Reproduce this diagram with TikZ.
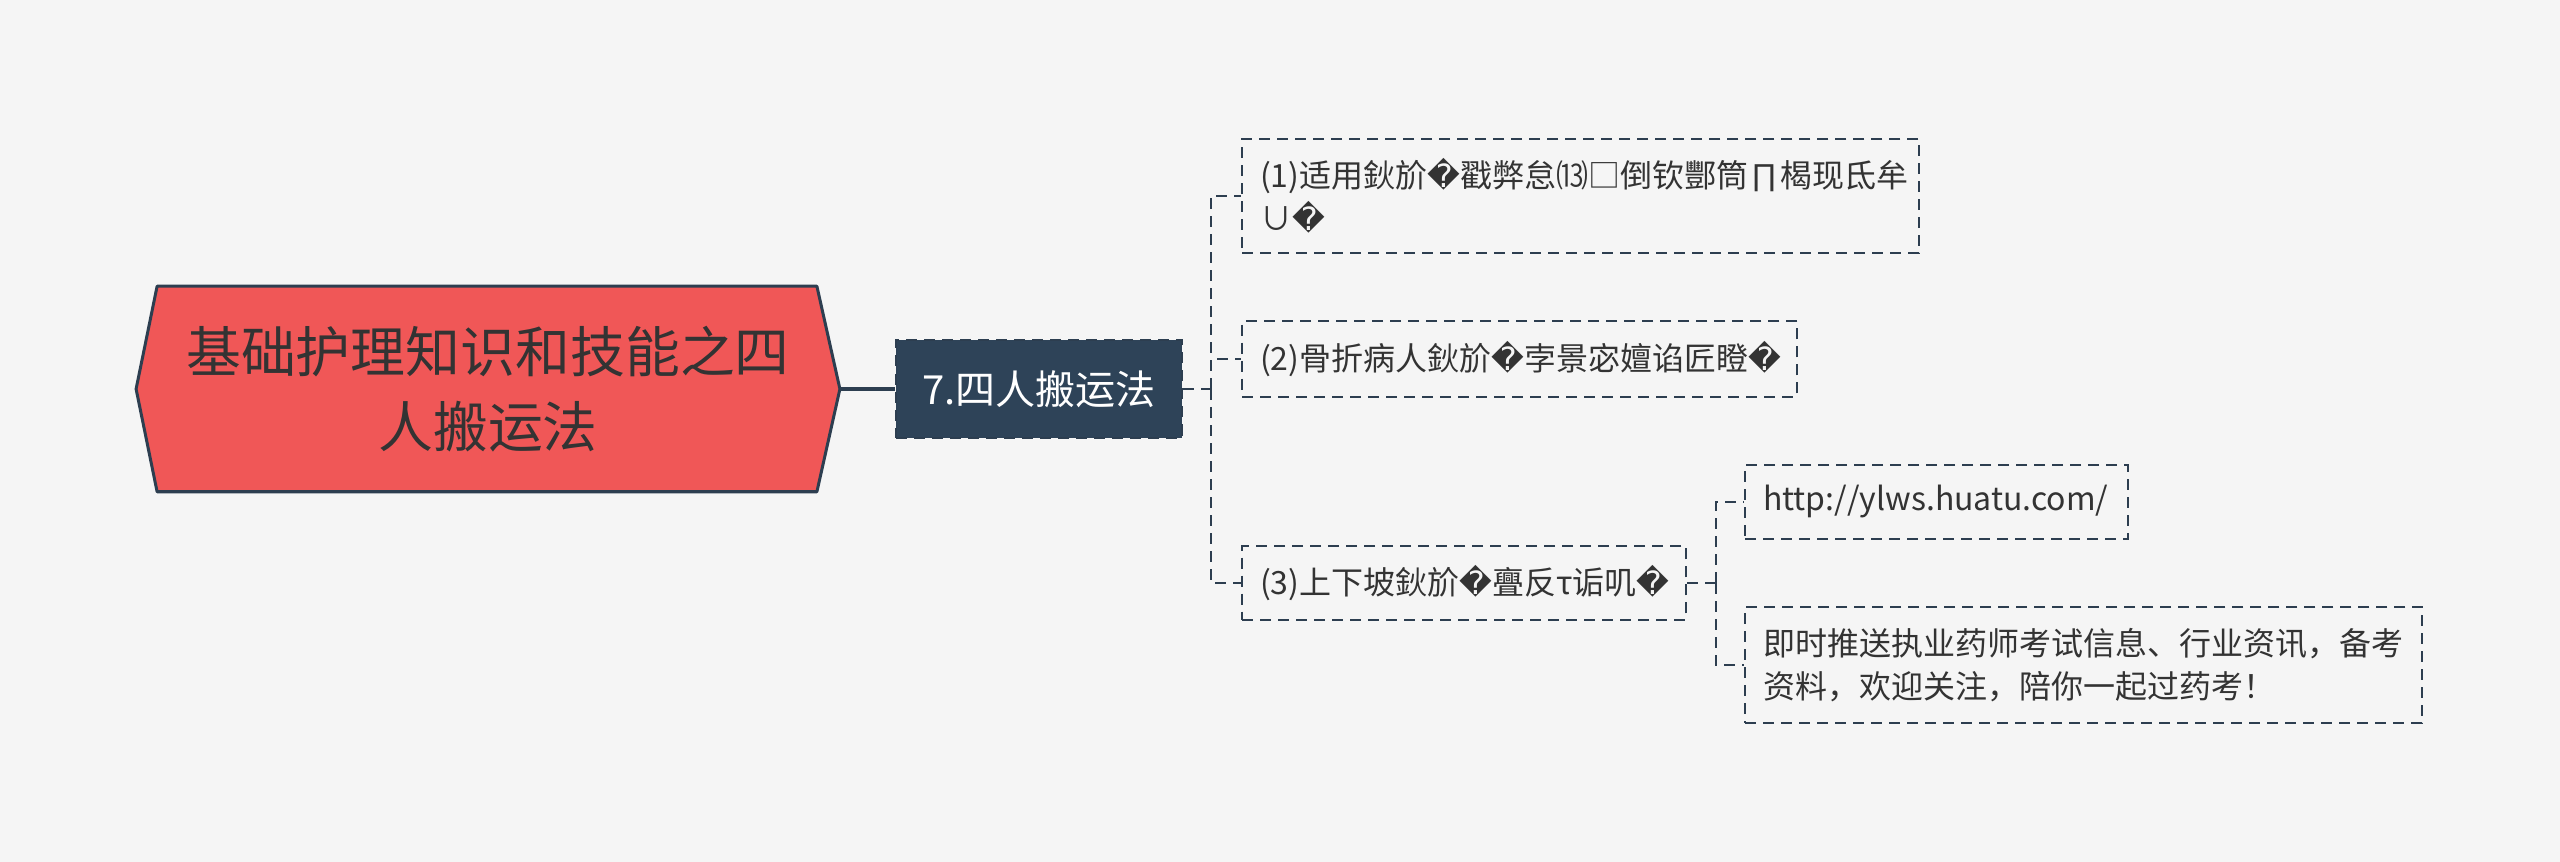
\documentclass[tikz,border=0pt]{standalone}
\usepackage{fontspec}
\setmainfont{Noto Sans CJK SC}
\newfontfamily\symfont{DejaVu Sans}
\newcommand{\qm}{{\symfont �}}
\usetikzlibrary{backgrounds}
\definecolor{bgc}{HTML}{F5F5F5}
\definecolor{rootred}{HTML}{F05757}
\definecolor{navy}{HTML}{2E4358}
\definecolor{edge}{HTML}{2D3E50}
\definecolor{txt}{HTML}{333333}

\begin{document}
\begin{tikzpicture}[x=0.01cm, y=-0.01cm,
  roottext/.style={align=center, text=txt, minimum width=7.02cm, minimum height=2.04cm,
              font=\fontsize{15.6pt}{21.3pt}\selectfont},
  rootshape/.style={draw=edge, fill=rootred, line width=0.03cm, line join=round},
  topic/.style={draw=edge, fill=navy, dashed, dash pattern=on 0.11cm off 0.07cm,
              line width=0.02cm, text=white, minimum width=2.86cm, minimum height=0.97cm,
              font=\fontsize{11.4pt}{14pt}\selectfont},
  leaf/.style={draw=edge, dash pattern=on 0.11cm off 0.07cm, line width=0.02cm,
              align=left, anchor=west, text=txt, inner xsep=0.18cm,
              font=\fontsize{9.1pt}{12.2pt}\selectfont},
  link/.style={draw=edge, line width=0.02cm, dash pattern=on 0.11cm off 0.07cm},
  trunk/.style={draw=edge, line width=0.035cm}]

  \useasboundingbox (0,0) rectangle (2560,862);

  \node[roottext] (root) at (488,389) {基础护理知识和技能之四\\人搬运法};
  \node[topic]    (four) at (1039,389) {7.四人搬运法};
  \node[leaf, text width=6.41cm, minimum height=1.14cm] (fit)  at (1241,196)
    {(1)适用鈥斺\qm 戳弊怠⒀□倒钦酆筒∏楬现氐牟\\∪\qm};
  \node[leaf, text width=5.19cm, minimum height=0.75cm] (bone) at (1241,359)
    {(2)骨折病人鈥斺\qm 孛景宓嬗谄匠瞪\qm};
  \node[leaf, text width=4.08cm, minimum height=0.73cm] (slope) at (1241,583)
    {(3)上下坡鈥斺\qm 亹反τ诟叽\qm};
  \node[leaf, text width=3.47cm, minimum height=0.74cm] (url)  at (1744,502)
    {http://ylws.huatu.com/};
  \node[leaf, text width=6.41cm, minimum height=1.16cm] (ad)   at (1744,665)
    {即时推送执业药师考试信息、行业资讯，备考\\资料，欢迎关注，陪你一起过药考！};

  \begin{scope}[on background layer]
    \fill[bgc] (0,0) rectangle (2560,862);
    \draw[rootshape] ([xshift=0.21cm]root.north west) -- ([xshift=-0.23cm]root.north east)
      -- (root.east) -- ([xshift=-0.23cm]root.south east)
      -- ([xshift=0.21cm]root.south west) -- (root.west) -- cycle;
  \end{scope}

  \coordinate (j1) at ([xshift=0.28cm]four.east);
  \coordinate (j2) at ([xshift=0.29cm]slope.east);

  \draw[trunk] (root.east) -- (four.west);
  \draw[link]  (four.east) -- (j1);
  \draw[link]  (j1) |- (fit.west);
  \draw[link]  (j1) |- (bone.west);
  \draw[link]  (j1) |- (slope.west);
  \draw[link]  (slope.east) -- (j2);
  \draw[link]  (j2) |- (url.west);
  \draw[link]  (j2) |- (ad.west);

\end{tikzpicture}
\end{document}
